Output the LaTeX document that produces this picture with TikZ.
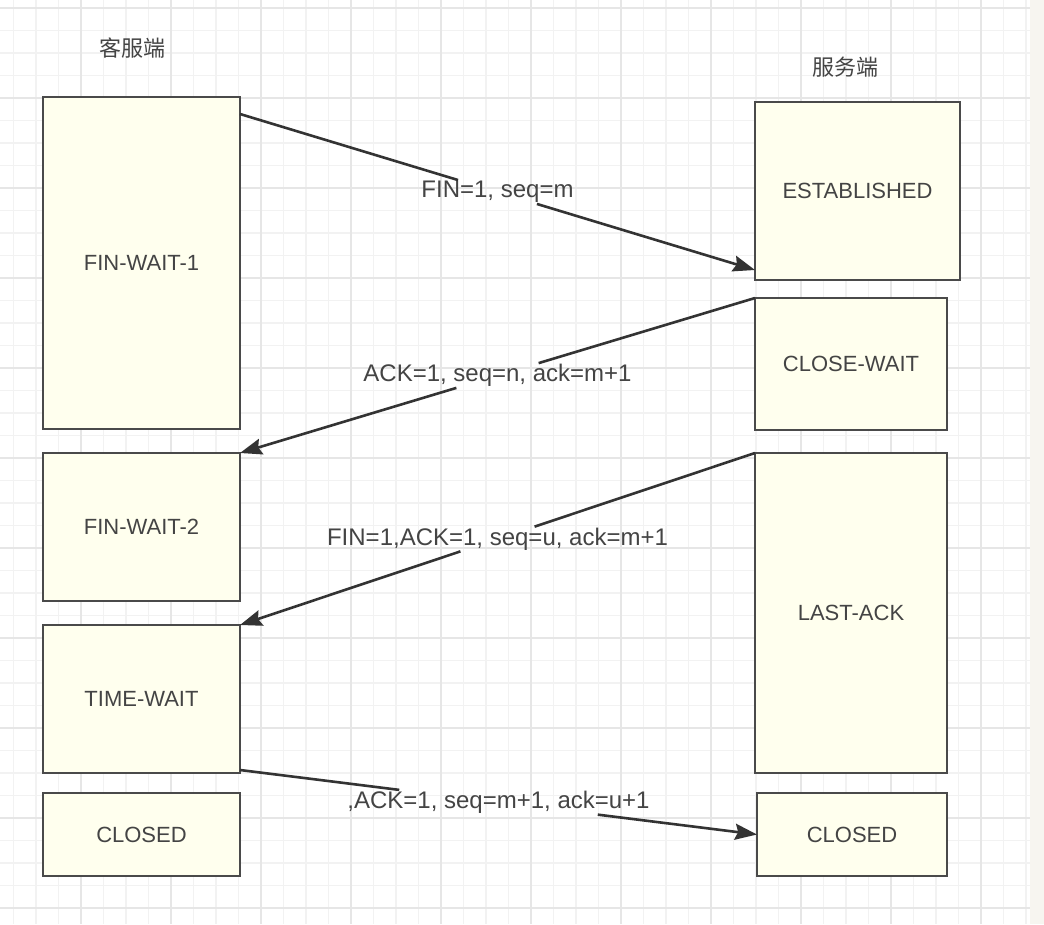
\documentclass[tikz,border=0pt]{standalone}
\usepackage{fontspec}
\setmainfont{Liberation Sans}
\newfontfamily\cjk{Noto Sans CJK SC}
\usepackage{xcolor}
\usepackage{tikz}
\usetikzlibrary{arrows.meta,positioning,calc}
\definecolor{StateFill}{HTML}{FFFFEE}
\definecolor{StateLine}{HTML}{4A4A4A}
\definecolor{GridMinor}{HTML}{F2F2F2}
\definecolor{GridMajor}{HTML}{E6E6E6}
\definecolor{PanelEdge}{HTML}{F7F5F0}
\definecolor{InkText}{HTML}{444444}
\definecolor{ArrowInk}{HTML}{333333}

\begin{document}
\begin{tikzpicture}[
  x=1pt, y=-1pt,
  statebox/.style={draw=StateLine, line width=2.4pt, fill=StateFill, text=InkText,
    font=\fontsize{22}{26}\selectfont, minimum width=197pt, inner sep=0pt, outer sep=0pt},
  side/.style={text=InkText, font=\cjk\fontsize{22}{26}\selectfont},
  msglabel/.style={text=InkText, inner sep=1pt, font=\fontsize{24}{28}\selectfont},
  msgline/.style={draw=ArrowInk, line width=2.6pt},
  msg/.style={msgline, -{Stealth[length=22pt, width=16pt, inset=3pt]}}
]
\useasboundingbox (0,0) rectangle (1044,924);
\fill[white] (0,0) rectangle (1044,924);

% grid paper
\foreach \gx in {13.5,36,...,1030} \draw[GridMinor, line width=1.2pt] (\gx,0) -- (\gx,924);
\foreach \gy in {8,30.5,...,924} \draw[GridMinor, line width=1.2pt] (0,\gy) -- (1030,\gy);
\foreach \gx in {81,171,...,1030} \draw[GridMajor, line width=1.4pt] (\gx,0) -- (\gx,924);
\foreach \gy in {8,98,...,924} \draw[GridMajor, line width=1.4pt] (0,\gy) -- (1030,\gy);
\fill[PanelEdge] (1030,0) rectangle (1044,924);

% client side
\node[side] (client) at (132,48) {客服端};
\node[statebox, minimum height=332pt] (fw1) at (141.5,263) {FIN-WAIT-1};
\node[statebox, minimum height=148pt, below=24pt of fw1] (fw2) {FIN-WAIT-2};
\node[statebox, minimum height=148pt, below=24pt of fw2] (tw) {TIME-WAIT};
\node[statebox, minimum height=83pt, below=20pt of tw] (cl) {CLOSED};

% server side
\node[side] (server) at (845,67) {服务端};
\node[statebox, minimum width=205pt, minimum height=178pt] (est) at (857.5,191) {ESTABLISHED};
\node[statebox, minimum width=192pt, minimum height=132pt, below right=18pt and 0pt of est.south west] (cw) {CLOSE-WAIT};
\node[statebox, minimum width=192pt, minimum height=320pt, below right=23pt and 0pt of cw.south west] (la) {LAST-ACK};
\node[statebox, minimum width=190pt, minimum height=83pt, below right=20pt and 2pt of la.south west] (cr) {CLOSED};

% message ends
\coordinate (finA) at ($(fw1.north east)+(0,17)$);
\coordinate (finB) at ($(est.south west)+(0,-10)$);
\coordinate (lastA) at ($(tw.south east)+(0,-3)$);

\node[msglabel] (m1) at ($(finA)!0.5!(finB)$) {FIN=1, seq=m};
\node[msglabel] (m2) at ($(cw.north west)!0.5!(fw2.north east)$) {ACK=1, seq=n, ack=m+1};
\node[msglabel] (m3) at ($(la.north west)!0.5!(tw.north east)$) {FIN=1,ACK=1, seq=u, ack=m+1};
\node[msglabel] (m4) at ($(lastA)!0.5!(cr.west)$) {,ACK=1, seq=m+1, ack=u+1};

\draw[msgline] (finA) -- (m1);
\draw[msg] (m1) -- (finB);
\draw[msgline] (cw.north west) -- (m2);
\draw[msg] (m2) -- (fw2.north east);
\draw[msgline] (la.north west) -- (m3);
\draw[msg] (m3) -- (tw.north east);
\draw[msgline] (lastA) -- (m4);
\draw[msg] (m4) -- (cr.west);
\end{tikzpicture}
\end{document}
